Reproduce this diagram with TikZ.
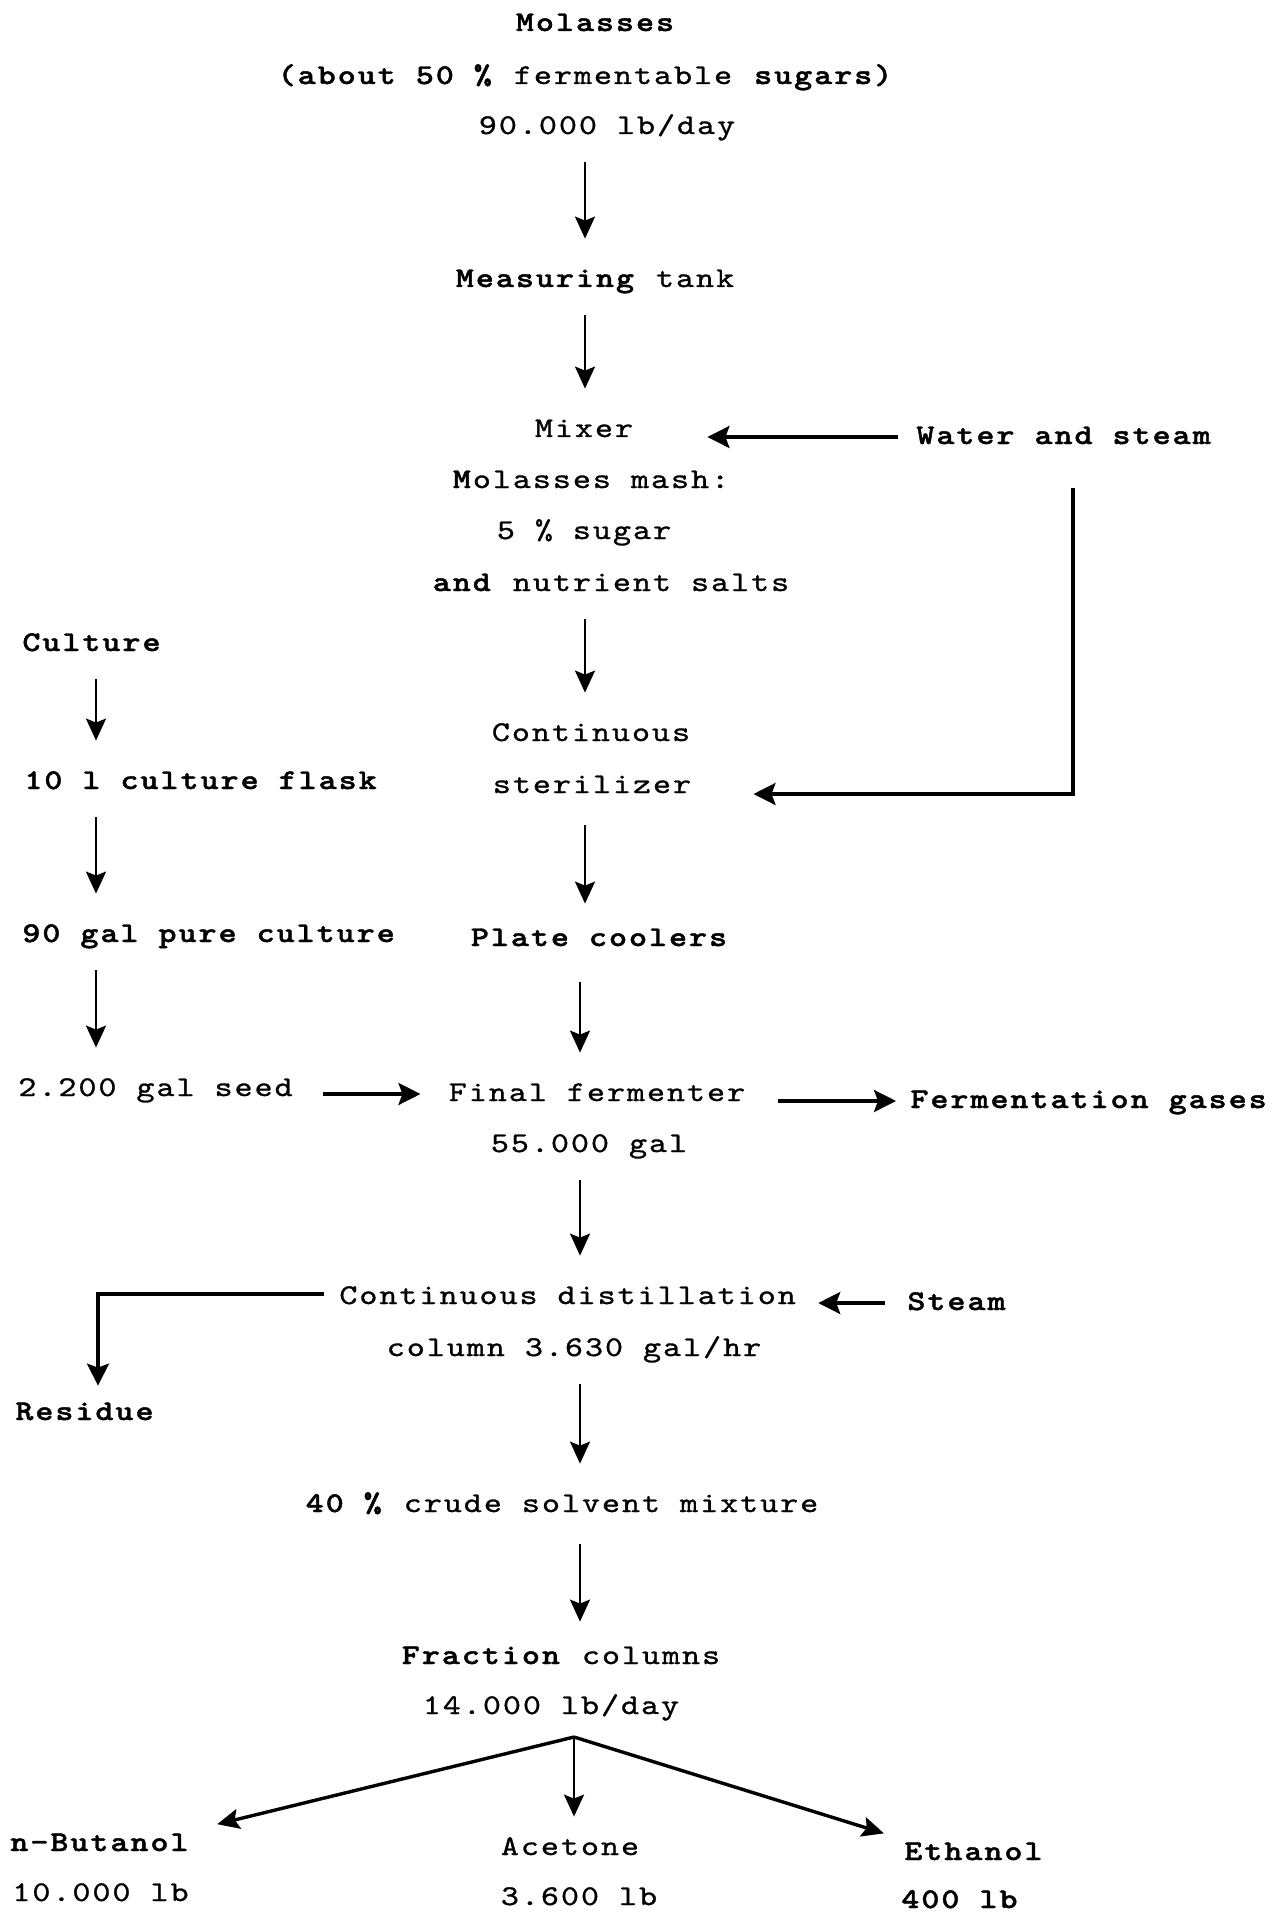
\documentclass[tikz,border=0pt]{standalone}
\usepackage{fontspec}
\newfontfamily\tw{lmmono10-regular}[Extension=.otf, FakeStretch=1.2, LetterSpace=7, FakeBold=1, BoldFont=lmmonolt10-bold, BoldFeatures={FakeStretch=1.2, LetterSpace=7, FakeBold=1.5}]
\usetikzlibrary{arrows.meta}
\begin{document}
\begin{tikzpicture}[x=0.5pt, y=-0.5pt,
  txt/.style={inner sep=0pt, text height=10pt, text depth=3pt, font=\tw\fontsize{14.3pt}{17pt}\selectfont},
  lt/.style={txt, anchor=west},
  varr/.style={line width=1.3pt, -{Stealth[length=11pt,width=10pt,inset=2pt]}, shorten <=11pt, shorten >=14pt},
  harr/.style={line width=1.6pt, -{Stealth[length=11pt,width=11pt,inset=2pt]}},
  farr/.style={line width=1.7pt, -{Stealth[length=11pt,width=10pt,inset=2pt]}}]
\useasboundingbox (0,0) rectangle (1281,1915);
% ---- nodes ----
\node[txt] (mol1) at (596,24) {\textbf{Molasses}};
\node[txt] (mol2) at (586,77) {\textbf{(about 50 \%} fermentable \textbf{sugars)}};
\node[txt] (mol3) at (607,127) {90.000 lb/day};
\node[txt] (meas) at (595,280) {\textbf{Measuring} tank};
\node[txt] (mixer) at (584,430) {Mixer};
\node[lt] (water) at (916,437) {\textbf{Water and steam}};
\node[txt] (mash) at (591,481) {\textbf{M}olasses mash:};
\node[txt] (sugar) at (584,532) {5 \% sugar};
\node[txt] (salts) at (611,584) {\textbf{and} nutrient salts};
\node[lt] (culture) at (22,644) {\textbf{Culture}};
\node[txt] (cont) at (591,734) {Continuous};
\node[txt] (steril) at (592,786) {sterilizer};
\node[lt] (flask) at (24,782) {\textbf{10 l culture flask}};
\node[lt] (pure) at (22,935) {\textbf{90 gal pure culture}};
\node[txt] (plate) at (600,939) {\textbf{Plate coolers}};
\node[lt] (seed) at (18,1089) {2.200 gal seed};
\node[txt] (final) at (597,1094) {Final fermenter};
\node[lt] (gases) at (910,1101) {\textbf{Fermentation gases}};
\node[txt] (gal) at (589,1145) {55.000 gal};
\node[lt] (dist) at (339,1297) {Continuous distillation};
\node[lt] (steam) at (907,1303) {\textbf{Steam}};
\node[txt] (column) at (574,1349) {column 3.630 gal/hr};
\node[lt] (residue) at (15,1413) {\textbf{Residue}};
\node[txt] (crude) at (562,1505) {\textbf{40 \%} crude solvent mixture};
\node[txt] (frac1) at (561,1657) {\textbf{Fraction} columns};
\node[txt] (frac2) at (551,1707) {14.000 lb/day};
\node[lt] (buta) at (10,1844) {\textbf{n-Butanol}};
\node[lt] (buta2) at (12,1894) {10.000 lb};
\node[txt] (acet) at (570,1848) {Acetone};
\node[txt] (acet2) at (579,1898) {3.600 lb};
\node[lt] (eth) at (904,1853) {\textbf{Ethanol}};
\node[lt] (eth2) at (901,1901) {\textbf{400 lb}};
% ---- helper coordinates ----
\coordinate (colA) at (585,0);
\coordinate (colB) at (580,0);
\coordinate (colL) at (96,0);
\coordinate (wcorner) at (1073,794);
\coordinate (rcorner) at (98,1294);
\coordinate (fork) at (574,1737);
% ---- main column ----
\draw[varr] (mol3.south -| colA) -- (meas.north -| colA);
\draw[varr] (meas.south -| colA) -- (mixer.north -| colA);
\draw[varr] (salts.south -| colA) -- (cont.north -| colA);
\draw[varr, shorten <=13pt, shorten >=11pt] (steril.south -| colA) -- (plate.north -| colA);
\draw[varr, shorten <=15pt] (plate.south -| colB) -- (final.north -| colB);
\draw[varr] (gal.south -| colB) -- (dist.north -| colB);
\draw[varr] (column.south -| colB) -- (crude.north -| colB);
\draw[varr, shorten <=13pt, shorten >=11pt] (crude.south -| colB) -- (frac1.north -| colB);
% ---- culture column ----
\draw[varr] (culture.south -| colL) -- (flask.north -| colL);
\draw[varr] (flask.south -| colL) -- (pure.north -| colL);
\draw[varr] (pure.south -| colL) -- (seed.north -| colL);
% ---- horizontal ----
\draw[harr, shorten <=9pt, shorten >=37pt] (water.west) -- (mixer.east |- water.west);
\draw[harr, shorten <=19pt, shorten >=31pt] (water.south -| wcorner) -- (wcorner) -- (steril.east |- wcorner);
\draw[harr, shorten <=15pt, shorten >=14pt] (seed.east |- final.west) -- (final.west);
\draw[harr, shorten <=16pt, shorten >=7pt] (final.east |- gases.west) -- (gases.west);
\draw[harr, shorten <=7.5pt, shorten >=7pt] (rcorner -| dist.west) -- (rcorner) -- (residue.north -| rcorner);
\draw[harr, shorten <=11pt, shorten >=11pt] (steam.west) -- (dist.east |- steam.west);
% ---- fork ----
\draw[farr, shorten >=13.5pt] (fork) -- (buta.north east);
\draw[varr, shorten <=0pt, shorten >=9pt] (fork) -- (acet.north -| fork);
\draw[farr, shorten >=10.5pt] (fork) -- (eth.north west);
\end{tikzpicture}
\end{document}
